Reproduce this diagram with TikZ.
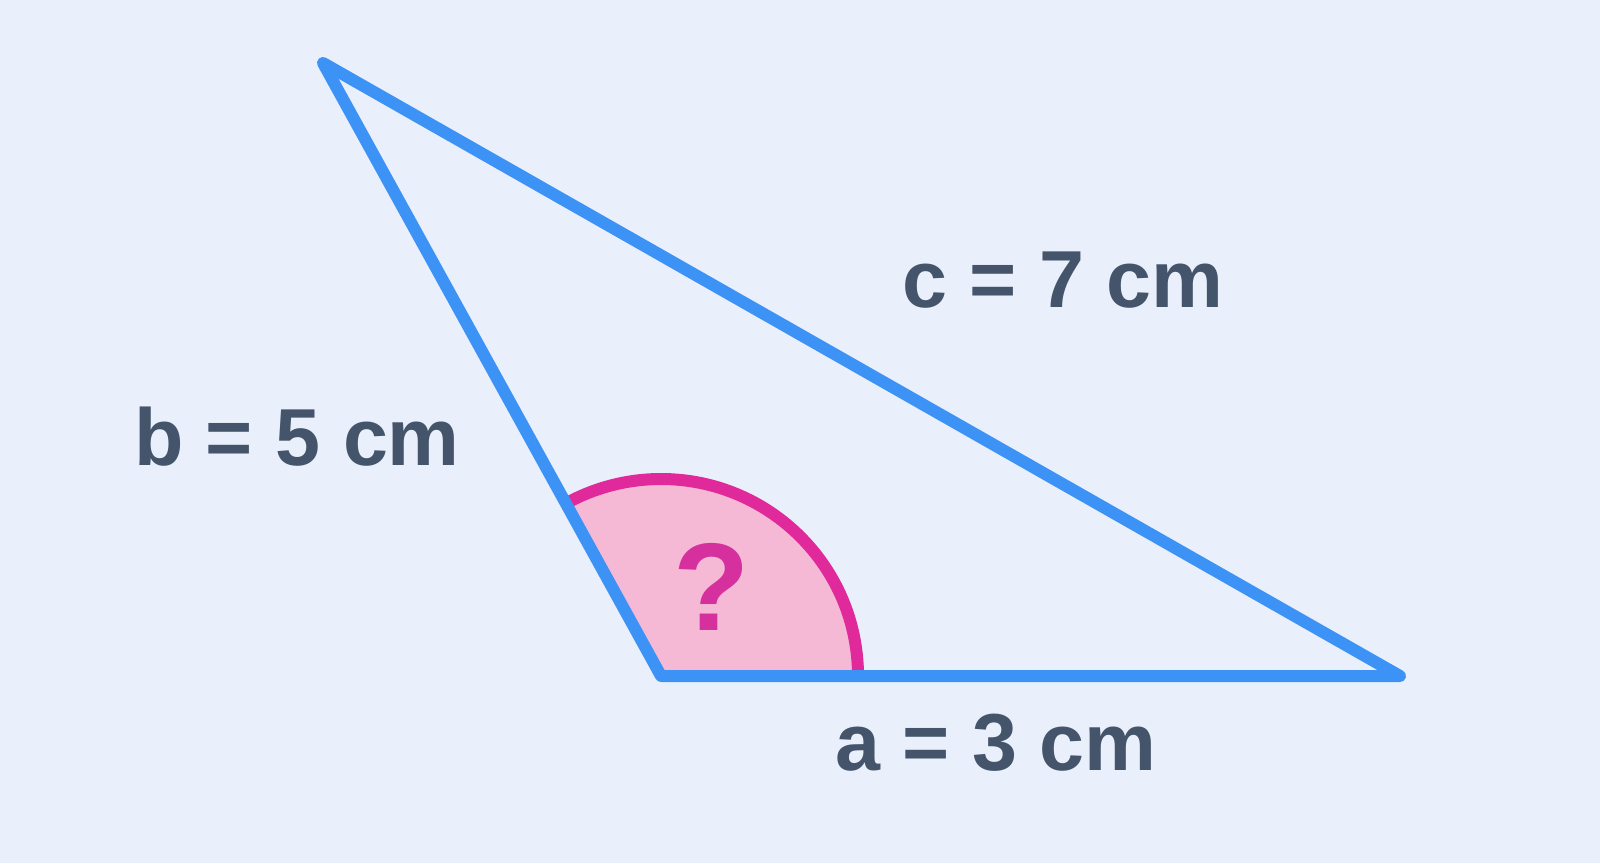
\documentclass[tikz,border=0pt]{standalone}
\usepackage{fontspec}
\setmainfont{Liberation Sans}
\usetikzlibrary{positioning, calc}
\definecolor{bgblue}{RGB}{234,240,251}
\definecolor{sideblue}{RGB}{61,146,245}
\definecolor{anglefill}{RGB}{246,185,213}
\definecolor{anglemagenta}{RGB}{224,41,155}
\definecolor{qmagenta}{RGB}{213,48,158}
\definecolor{labelslate}{RGB}{68,84,106}

\begin{document}
\begin{tikzpicture}[
                side/.style={draw=sideblue, line width=0.12cm, line join=round, line cap=round},
                anglearc/.style={draw=anglemagenta, line width=0.12cm},
                sidelabel/.style={anchor=base, text=labelslate, font=\fontsize{23}{28}\selectfont\bfseries, inner sep=0pt},
                query/.style={anchor=base, text=qmagenta, font=\fontsize{35.5}{40}\selectfont\bfseries, inner sep=0pt}
            ]
                \fill[bgblue] (0,0) rectangle (16,8.63);
                \useasboundingbox (0,0) rectangle (16,8.63);

                % corners of the triangle
                \coordinate (top) at (3.23,8.00);
                \coordinate (left) at (6.61,1.87);
                \coordinate (right) at (14.00,1.87);

                % angle at the bottom-left corner
                \fill[anglefill] (left) -- ++(0:1.97) arc[start angle=0, end angle=119, radius=1.97] -- cycle;
                \draw[anglearc] ($(left)+(0:1.97)$) arc[start angle=0, end angle=119, radius=1.97];
                \node[query] (ask) at (7.12,2.33) {?};

                \draw[side] (top) -- (left) -- (right) -- cycle;

                \node[sidelabel] (clabel) at (10.63,5.55) {c = 7 cm};
                \node[sidelabel] (blabel) at (2.97,3.97) {b = 5 cm};
                \node[sidelabel] (alabel) at (9.96,0.93) {a = 3 cm};
            \end{tikzpicture}
\end{document}
